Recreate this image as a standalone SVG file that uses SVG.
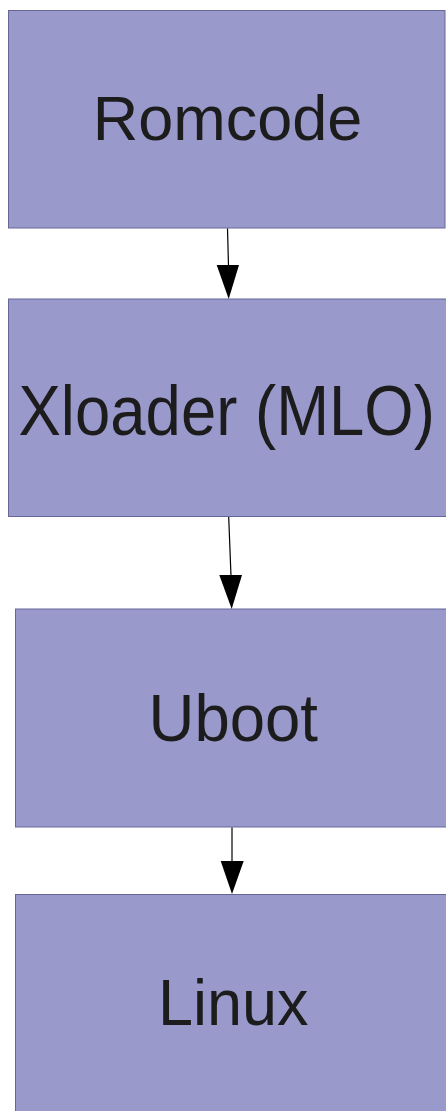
<svg xmlns="http://www.w3.org/2000/svg" width="446" height="1111" viewBox="0 0 446 1111">
<style>
.box{fill:#9999cc;stroke:#666699;stroke-width:1}
.lbl{font-family:"Liberation Sans",Arial,sans-serif;fill:#1c1c1c;text-anchor:middle}
.conn line{stroke:#000;stroke-width:1.2}
.conn polygon{fill:#000}
</style>
<rect width="446" height="1111" fill="#fff"/>
<g id="romcode">
<rect class="box" x="8.5" y="10.5" width="436.5" height="217.5"/>
<text class="lbl" font-size="63" transform="translate(227.5,139.5)">Romcode</text>
</g>
<g id="xloader">
<rect class="box" x="8.5" y="299" width="440" height="217.5"/>
<text class="lbl" font-size="63.5" transform="translate(226.7,435) scale(1,1.12)">Xloader (MLO)</text>
</g>
<g id="uboot">
<rect class="box" x="15.5" y="609" width="440" height="218"/>
<text class="lbl" font-size="63.5" transform="translate(233.3,741) scale(1,1.05)">Uboot</text>
</g>
<g id="linux">
<rect class="box" x="15.5" y="894.5" width="440" height="230"/>
<text class="lbl" font-size="63" transform="translate(233.2,1025) scale(1,1.035)">Linux</text>
</g>
<g id="connectors" class="conn">
<line x1="227.5" y1="228.5" x2="228.5" y2="266"/>
<polygon points="216.7,265 239,265 228.7,299"/>
<line x1="228.7" y1="517" x2="231" y2="576"/>
<polygon points="219.3,575 242,575 231.7,609"/>
<line x1="232" y1="827.5" x2="232" y2="862"/>
<polygon points="220.7,861 243.7,861 232,894"/>
</g>
</svg>
